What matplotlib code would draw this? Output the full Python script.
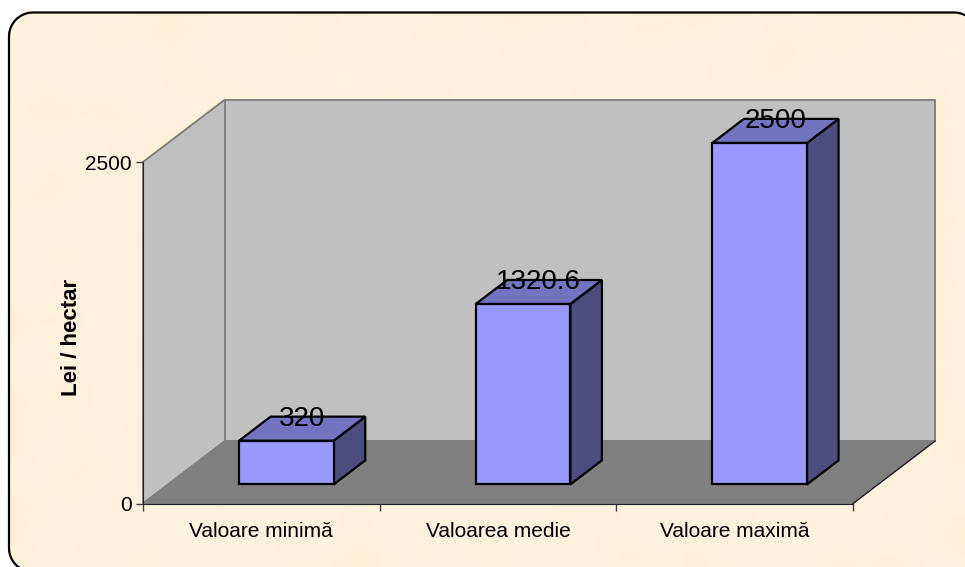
import numpy as np
import matplotlib
matplotlib.use('Agg')
import matplotlib.pyplot as plt
from matplotlib.patches import Polygon

plt.rcParams['font.family'] = ['Liberation Sans', 'DejaVu Sans']

categories = ['Valoare minimă', 'Valoarea medie', 'Valoare maximă']
values = [320, 1320.6, 2500]
value_labels = ['320', '1320.6', '2500']
y_ticks = [0, 2500]

W, H = 965, 567
L, R, T, B = 143, 853, 162, 503.5

fig = plt.figure(figsize=(W / 100, H / 100), dpi=100)
fig.patch.set_facecolor('white')


def round_box(x0, y0, x1, y1, r):
    # sampled outline, curved paths get mangled when they run off the canvas
    pts = []
    corners = [(x1 - r, y0 + r, -90), (x1 - r, y1 - r, 0), (x0 + r, y1 - r, 90), (x0 + r, y0 + r, 180)]
    for cx, cy, a in corners:
        t = np.radians(np.linspace(a, a + 90, 20))
        pts.extend(zip(cx + r * np.cos(t), cy + r * np.sin(t)))
    return pts


# whole picture in pixels, for the rounded frame and its paper texture
bg = fig.add_axes([0, 0, 1, 1], zorder=0)
bg.set_xlim(0, W)
bg.set_ylim(H, 0)
bg.axis('off')
xx, yy = np.meshgrid(np.arange(W), np.arange(H))
tex = (np.sin(xx / 53.0 + np.sin(yy / 37.0) * 2.1) * np.sin(yy / 31.0 + np.sin(xx / 61.0) * 1.7)
       + 0.5 * np.sin(xx / 17.0 + yy / 23.0) * np.sin(yy / 19.0 - xx / 29.0))
base = np.array([253, 242, 219]) / 255.0
img = np.clip(base[None, None, :] + tex[:, :, None] * np.array([0.002, 0.005, 0.009]), 0, 1)
im = bg.imshow(img, extent=(0, W, H, 0), aspect='auto', zorder=1)
# right and bottom edges of the frame run off the picture
frame = Polygon(round_box(9, 12.5, 978, 572, 24), closed=True, fc='none', ec='black', lw=1.6, zorder=3)
bg.add_patch(frame)
im.set_clip_path(frame)

ax = fig.add_axes([L / W, 1 - B / H, (R - L) / W, (B - T) / H], zorder=1)
ax.set_xlim(0, len(categories))
ax.set_ylim(0, y_ticks[-1])
ax.patch.set_visible(False)

# depth of the box, as a data offset
px_x = len(categories) / (R - L)
px_y = y_ticks[-1] / (B - T)
depth_x = 82 * px_x
depth_y = 62.5 * px_y
top = y_ticks[-1]
n = len(categories)


def shift(x, y, d):
    return (x + depth_x * d, y + depth_y * d)


def face(pts, fc, ec, lw, z):
    ax.add_patch(Polygon(pts, closed=True, fc=fc, ec=ec, lw=lw, zorder=z, clip_on=False, joinstyle='miter'))


wall = '#c0c0c0'
wall_ec = '#808080'
face([shift(0, 0, 1), shift(n, 0, 1), shift(n, top, 1), shift(0, top, 1)], wall, wall_ec, 1.4, 1)
face([(0, 0), shift(0, 0, 1), shift(0, top, 1), (0, top)], wall, wall_ec, 1.4, 1)
face([(0, 0), (n, 0), shift(n, 0, 1), shift(0, 0, 1)], '#808080', '#808080', 1.0, 2)
# black edge on the floor's right side
ax.plot([n, shift(n, 0, 1)[0]], [0, shift(n, 0, 1)[1]], color='#202020', lw=1.0, zorder=2.5, clip_on=False)

bar_w = 0.4
d0, d1 = 0.305, 0.69
for i, v in enumerate(values):
    x0, x1 = i + 0.5 - bar_w / 2, i + 0.5 + bar_w / 2
    front = [shift(x0, 0, d0), shift(x1, 0, d0), shift(x1, v, d0), shift(x0, v, d0)]
    side = [shift(x1, 0, d0), shift(x1, 0, d1), shift(x1, v, d1), shift(x1, v, d0)]
    cap = [shift(x0, v, d0), shift(x1, v, d0), shift(x1, v, d1), shift(x0, v, d1)]
    face(side, '#4d4d80', 'black', 1.6, 4)
    face(cap, '#7373bf', 'black', 1.6, 4)
    face(front, '#9999ff', 'black', 1.6, 5)
    lx, ly = shift(i + 0.5, v, (d0 + d1) / 2)
    ax.text(lx, ly + 10 * px_y, value_labels[i], ha='center', va='center', fontsize=20, color='black', zorder=6, clip_on=False)

ax.set_xticks(range(n + 1))
ax.set_xticklabels([])
ax.set_xticks([i + 0.5 for i in range(n)], minor=True)
ax.set_xticklabels(categories, minor=True, fontsize=15)
ax.tick_params(axis='x', which='minor', length=0, pad=13)
ax.tick_params(axis='x', which='major', length=5, width=1, color='#404040')
ax.set_yticks(y_ticks)
ax.set_yticklabels([str(t) for t in y_ticks], fontsize=15)
ax.tick_params(axis='y', length=5, width=1, pad=3, color='#404040')
ax.set_ylabel('Lei / hectar', fontsize=16, fontweight='bold', labelpad=2, y=0.486)
for s in ['top', 'right']:
    ax.spines[s].set_visible(False)
for s in ['left', 'bottom']:
    ax.spines[s].set_zorder(3)
    ax.spines[s].set_color('#202020')

fig.savefig('out.png', dpi=100)
